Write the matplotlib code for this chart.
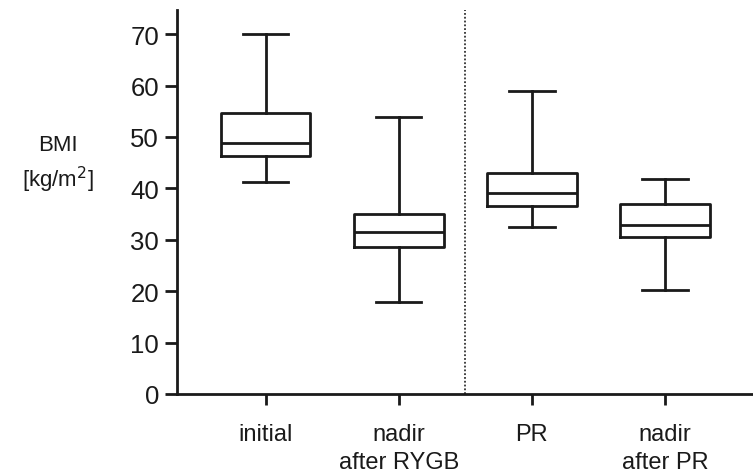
import matplotlib.pyplot as plt

# BMI box plots (min-max whiskers)
groups = ["initial", "nadir\nafter RYGB", "PR", "nadir\nafter PR"]
mins = [41.3, 17.8, 32.5, 20.3]
q1s = [46.3, 28.6, 36.6, 30.5]
medians = [48.8, 31.6, 39.1, 32.9]
q3s = [54.6, 35.1, 43.0, 36.9]
maxs = [70.1, 53.9, 59.0, 41.8]
yticks = [0, 10, 20, 30, 40, 50, 60, 70]

plt.rcParams['font.family'] = ['Liberation Sans', 'DejaVu Sans']

stats = []
for i in range(len(groups)):
    stats.append({
        "whislo": mins[i], "q1": q1s[i], "med": medians[i],
        "q3": q3s[i], "whishi": maxs[i], "label": groups[i],
    })

fig = plt.figure(figsize=(7.53, 4.77), dpi=100)
ax = fig.add_axes([0.235, 0.172, 0.765, 0.805])

lw = 2.0
ink = "#1a1a1a"
ax.bxp(stats, positions=[1, 2, 3, 4], widths=0.675, showfliers=False,
       boxprops=dict(color=ink, linewidth=lw),
       medianprops=dict(color=ink, linewidth=lw),
       whiskerprops=dict(color=ink, linewidth=lw),
       capprops=dict(color=ink, linewidth=lw),
       capwidths=0.34)

ax.axvline(2.5, color="#333333", linewidth=1.3, linestyle=(0, (1, 1.1)))

ax.set_xlim(0.335, 4.66)
ax.set_ylim(0, 74.7)
ax.set_yticks(yticks)
ax.set_xticks([1, 2, 3, 4])
ax.set_xticklabels(groups, linespacing=1.35)

for side in ["top", "right"]:
    ax.spines[side].set_visible(False)
for side in ["left", "bottom"]:
    ax.spines[side].set_linewidth(2.0)
    ax.spines[side].set_color(ink)

ax.tick_params(axis="y", length=9, width=2.0, labelsize=18.5, pad=4, colors=ink)
ax.tick_params(axis="x", length=8, width=2.0, labelsize=17, pad=13, colors=ink)

fig.text(58 / 753, 1 - 165 / 477, "BMI\n[kg/m$^2$]", ha="center", va="center",
         fontsize=16, linespacing=1.4, color=ink)

fig.savefig("out.png", dpi=100)
